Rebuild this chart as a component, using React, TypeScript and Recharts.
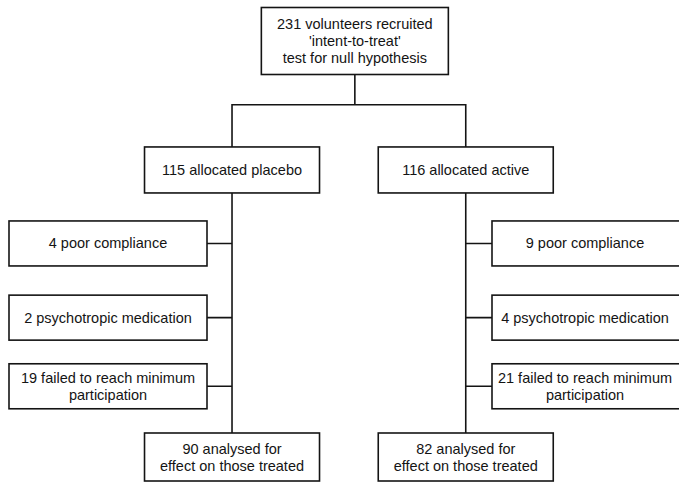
import React from 'react';
import { ScatterChart, Scatter, XAxis, YAxis } from 'recharts';

// ---- Flowchart content ----
const nodeLabels: string[] = [
  "231 volunteers recruited\n'intent-to-treat'\ntest for null hypothesis",
  '115 allocated placebo',
  '116 allocated active',
  '4 poor compliance',
  '2 psychotropic medication',
  '19 failed to reach minimum\nparticipation',
  '9 poor compliance',
  '4 psychotropic medication',
  '21 failed to reach minimum\nparticipation',
  '90 analysed for\neffect on those treated',
  '82 analysed for\neffect on those treated',
];
// column / level of each node in the flow (abstract layout units)
const nodeCols: number[] = [2.07, 1.04, 3, 0, 0, 0, 4, 4, 4, 1.04, 3];
const nodeRows: number[] = [0, 1.86, 1.86, 2.92, 3.99, 4.98, 2.92, 3.99, 4.98, 6, 6];
const nodeKinds: string[] = ['top', 'arm', 'arm', 'left', 'left', 'left', 'right', 'right', 'right', 'bottom', 'bottom'];

// connectors, as polylines in the same layout units
const busLevel = 0.92;
const connTop = [{ x: 2.07, y: 0 }, { x: 2.07, y: busLevel }];
const connBus = [{ x: 1.04, y: 1.86 }, { x: 1.04, y: busLevel }, { x: 3, y: busLevel }, { x: 3, y: 1.86 }];
const connLeftTrunk = [{ x: 1.04, y: 1.86 }, { x: 1.04, y: 6 }];
const connRightTrunk = [{ x: 3, y: 1.86 }, { x: 3, y: 6 }];
const leftBranchRows: number[] = [2.92, 3.99, 4.98];
const rightBranchRows: number[] = [2.92, 3.99, 4.98];

const nodes = nodeLabels.map((label, i) => ({ label, x: nodeCols[i], y: nodeRows[i], kind: nodeKinds[i] }));

// ---- styling ----
const boxStyle: Record<string, { w: number; h: number; extra: number }> = {
  top: { w: 187, h: 67, extra: 0 },
  arm: { w: 175, h: 46, extra: 0 },
  left: { w: 198, h: 45, extra: 0 },
  right: { w: 186, h: 45, extra: 10 },
  bottom: { w: 175, h: 48, extra: 0 },
};
const INK = '#141414';
const FONT = '"Liberation Sans", Arial, Helvetica, sans-serif';

const NodeShape = (props: any) => {
  const { cx, cy, payload } = props;
  if (cx == null || cy == null || !payload) return <g />;
  const st = boxStyle[payload.kind];
  const lines: string[] = String(payload.label).split('\n');
  const lh = 17;
  const startY = cy - ((lines.length - 1) * lh) / 2;
  return (
    <g>
      <rect
        x={cx - st.w / 2}
        y={cy - st.h / 2}
        width={st.w + st.extra}
        height={st.h}
        fill="#ffffff"
        stroke={INK}
        strokeWidth={1.6}
      />
      <text
        x={cx}
        y={startY}
        textAnchor="middle"
        dominantBaseline="central"
        fontFamily={FONT}
        fontSize={14.5}
        fill={INK}
      >
        {lines.map((ln, k) => (
          <tspan key={k} x={cx} y={startY + k * lh} dominantBaseline="central">
            {ln}
          </tspan>
        ))}
      </text>
    </g>
  );
};

const NoDot = () => <g />;
const lineProps = { stroke: INK, strokeWidth: 1.6 };

export default function App() {
  const connectors: { x: number; y: number }[][] = [
    connTop,
    connBus,
    connLeftTrunk,
    connRightTrunk,
    ...leftBranchRows.map((r) => [{ x: 0, y: r }, { x: 1.04, y: r }]),
    ...rightBranchRows.map((r) => [{ x: 3, y: r }, { x: 4, y: r }]),
  ];
  return (
    <div style={{ position: 'absolute', left: 0, top: 0, width: 679, height: 484, background: '#fff' }}>
      <ScatterChart width={679} height={484} margin={{ top: 41, right: 94, bottom: 27, left: 108 }}>
        <XAxis type="number" dataKey="x" domain={[0, 4]} hide />
        <YAxis type="number" dataKey="y" domain={[0, 6]} reversed hide />
        {connectors.map((c, i) => (
          <Scatter
            key={'c' + i}
            data={c}
            line={lineProps}
            lineJointType="linear"
            shape={NoDot}
            fill={INK}
            legendType="none"
            isAnimationActive={false}
          />
        ))}
        <Scatter data={nodes} shape={NodeShape} fill="#fff" legendType="none" isAnimationActive={false} />
      </ScatterChart>
    </div>
  );
}
